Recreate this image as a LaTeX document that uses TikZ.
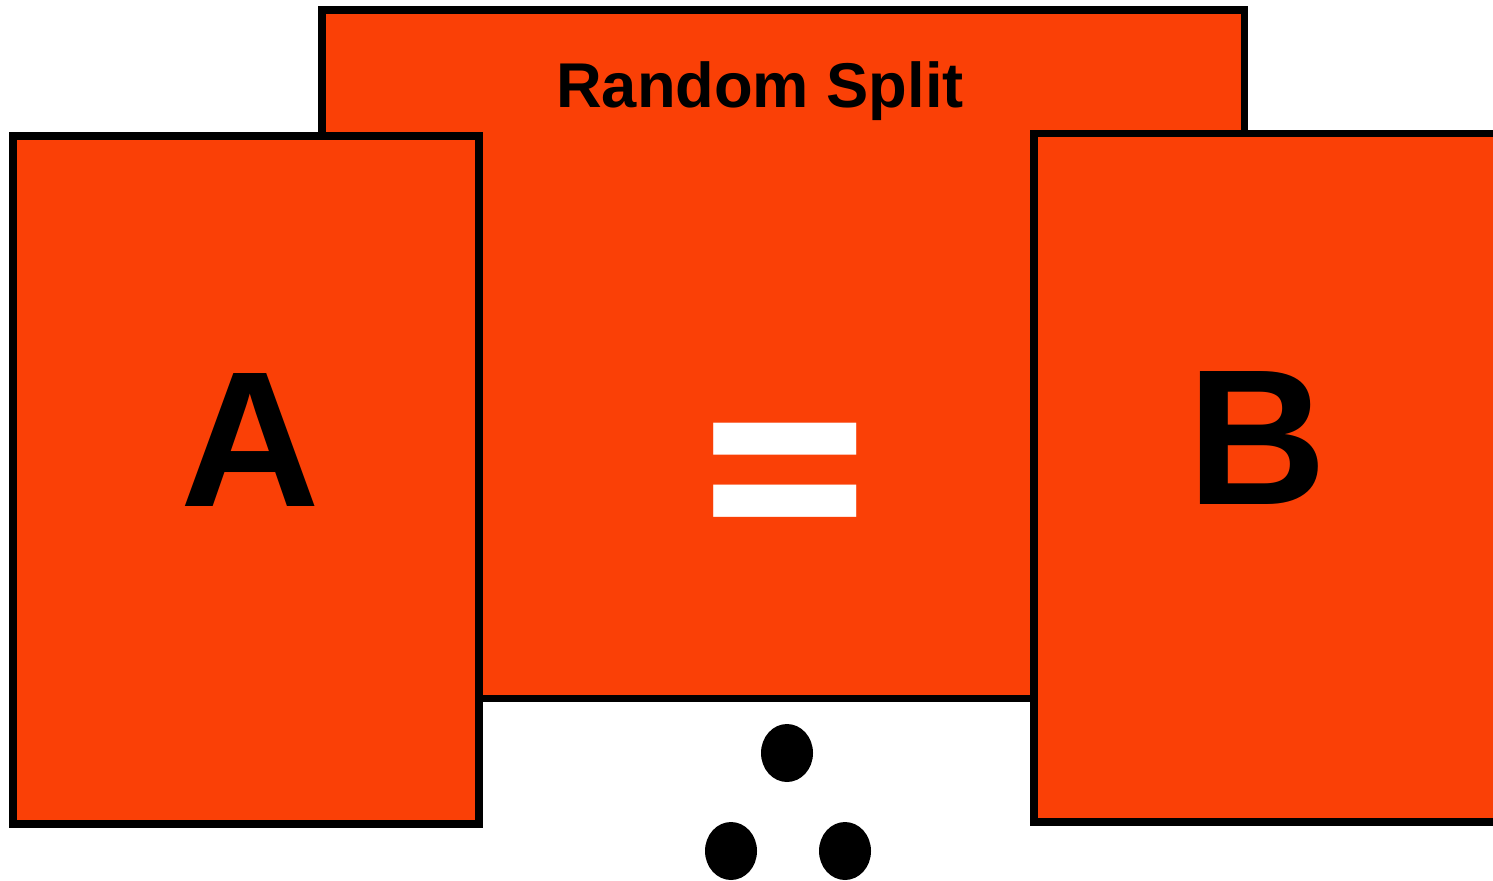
\documentclass[tikz,border=0pt]{standalone}
\usepackage{fontspec}
\setmainfont{Liberation Sans}
\newfontfamily\symfont{DejaVu Sans}
\usepackage{tikz}
\usetikzlibrary{calc}
\definecolor{splitOrange}{HTML}{FA4006}

\begin{document}
\begin{tikzpicture}[
    font=\bfseries,
    panel/.style={draw, line width=4.5pt, fill=splitOrange, inner sep=0pt},
    bigletter/.style={font=\fontsize{110}{110}\selectfont\bfseries, anchor=base, inner sep=0pt},
    dot/.style={fill=black}
]
\useasboundingbox (0,0) rectangle (29.86,17.6);

\node[panel, minimum width=18.45cm, minimum height=13.77cm] (split) at (15.665,10.515) {};
\node[anchor=base, inner sep=0pt, font=\fontsize{36}{36}\selectfont\bfseries] (title) at (15.2,15.44) {Random Split};
\node[white, anchor=base, inner sep=0pt, font=\fontsize{130}{130}\symfont\bfseries] (equal) at (15.71,6.46) {\scalebox{1}[1.22]{=}};

\node[panel, minimum width=9.32cm, minimum height=13.76cm] (boxA) at (4.92,8.0) {};
\node[bigletter] (labelA) at (5.0,7.48) {A};

\node[panel, minimum width=9.72cm, minimum height=13.77cm] (boxB) at (25.54,8.045) {};
\node[bigletter] (labelB) at (25.14,7.52) {B};

% three dots below the split box
\fill[dot] (15.74,2.54) ellipse (0.52 and 0.58);
\fill[dot] (14.62,0.58) ellipse (0.52 and 0.58);
\fill[dot] (16.9,0.58) ellipse (0.52 and 0.58);

\end{tikzpicture}
\end{document}
